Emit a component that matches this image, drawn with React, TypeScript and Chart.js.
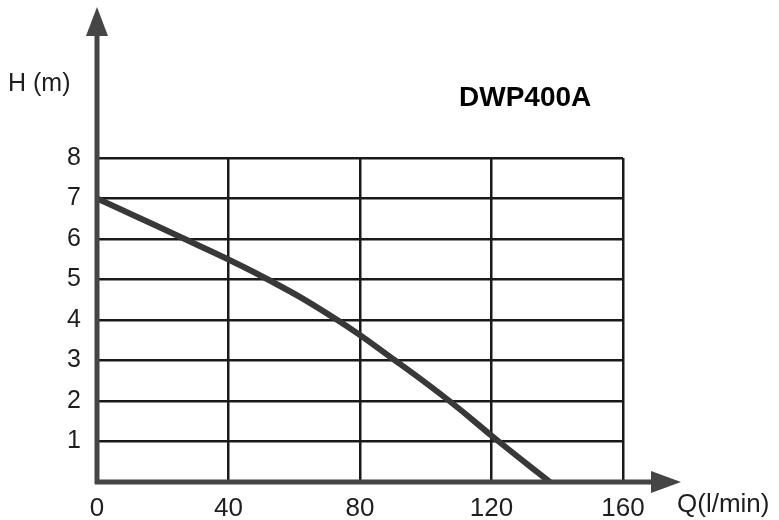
import React, { useEffect, useRef } from "react";
import { Chart, registerables } from "chart.js";

Chart.register(...registerables);

const flowLpm = [0, 26.7, 52.0, 73.1, 90.7, 107.2, 122.2, 137.8];
const headM = [7, 6, 5, 4, 3, 2, 1, 0];
const xTicks = [0, 40, 80, 120, 160];
const yTicks = [1, 2, 3, 4, 5, 6, 7, 8];
const titleText = "DWP400A";
const yLabel = "H (m)";
const xLabel = "Q(l/min)";

const FONT = "'Liberation Sans', Arial, sans-serif";

const axesPlugin = {
  id: "axesArrows",
  afterDatasetsDraw(chart: any) {
    const { ctx, scales } = chart;
    const x0 = scales.x.getPixelForValue(0);
    const y0 = scales.y.getPixelForValue(0);
    ctx.save();
    ctx.strokeStyle = "#454545";
    ctx.fillStyle = "#454545";
    ctx.lineWidth = 5;
    // y axis
    ctx.beginPath();
    ctx.moveTo(x0, y0 + 2);
    ctx.lineTo(x0, 34);
    ctx.stroke();
    ctx.beginPath();
    ctx.moveTo(x0 - 11, 36);
    ctx.lineTo(x0 + 11, 36);
    ctx.lineTo(x0, 7);
    ctx.closePath();
    ctx.fill();
    // x axis
    ctx.beginPath();
    ctx.moveTo(x0 - 2, y0);
    ctx.lineTo(654, y0);
    ctx.stroke();
    ctx.beginPath();
    ctx.moveTo(651, y0 - 11);
    ctx.lineTo(651, y0 + 11);
    ctx.lineTo(681, y0);
    ctx.closePath();
    ctx.fill();
    // texts
    ctx.fillStyle = "#1e1e1e";
    ctx.textBaseline = "middle";
    ctx.textAlign = "left";
    ctx.font = `25px ${FONT}`;
    ctx.fillText(yLabel, 8, 84);
    ctx.font = `26px ${FONT}`;
    ctx.fillText(xLabel, 677, 505);
    ctx.font = `bold 28px ${FONT}`;
    ctx.fillStyle = "#000";
    ctx.fillText(titleText, 459, 98);
    ctx.restore();
  },
};

export default function App() {
  const ref = useRef<HTMLCanvasElement>(null);
  useEffect(() => {
    if (!ref.current) return;
    const chart = new Chart(ref.current, {
      type: "line",
      data: {
        datasets: [
          {
            data: flowLpm.map((q, i) => ({ x: q, y: headM[i] })),
            borderColor: "#383838",
            borderWidth: 6,
            pointRadius: 0,
            tension: 0.45,
            fill: false,
          },
        ],
      },
      options: {
        responsive: false,
        animation: false,
        layout: { padding: { left: 47, top: 158, right: 156, bottom: 0 } },
        plugins: { legend: { display: false }, tooltip: { enabled: false }, title: { display: false } },
        scales: {
          x: {
            type: "linear",
            min: 0,
            max: 160,
            afterBuildTicks: (s: any) => {
              s.ticks = xTicks.map((v) => ({ value: v }));
            },
            afterFit: (s: any) => {
              s.height = 38;
            },
            ticks: { color: "#1e1e1e", font: { family: FONT, size: 26 }, padding: 11, maxRotation: 0 },
            grid: { color: "#1a1a1a", lineWidth: 2.5, drawTicks: false },
            border: { display: false },
          },
          y: {
            type: "linear",
            min: 0,
            max: 8,
            afterBuildTicks: (s: any) => {
              s.ticks = yTicks.map((v) => ({ value: v }));
            },
            afterFit: (s: any) => {
              s.width = 50;
            },
            ticks: { color: "#1e1e1e", font: { family: FONT, size: 25 }, padding: 16 },
            grid: { color: "#1a1a1a", lineWidth: 2.5, drawTicks: false },
            border: { display: false },
          },
        },
      },
      plugins: [axesPlugin],
    });
    return () => chart.destroy();
  }, []);
  return (
    <div style={{ position: "absolute", left: 0, top: 0, width: 779, height: 520, background: "#fff" }}>
      <canvas ref={ref} width={779} height={520} style={{ display: "block" }} />
    </div>
  );
}
